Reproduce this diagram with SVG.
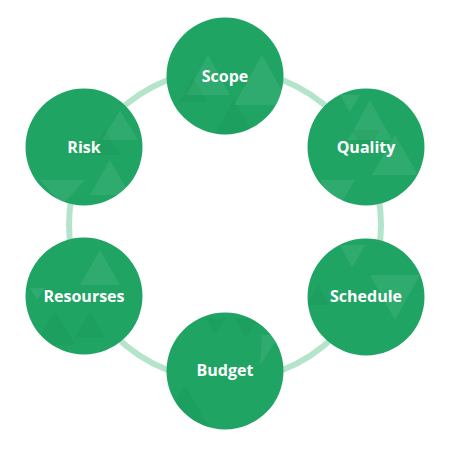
<svg xmlns="http://www.w3.org/2000/svg" width="450" height="450" viewBox="0 0 450 450">
<style>
.node{fill:#1fa463}
.lbl{font-family:"Open Sans","Liberation Sans",sans-serif;font-weight:700;font-size:16px;fill:#ffffff;text-anchor:middle}
.lt{fill:#ffffff;opacity:0.08}
.dk{fill:#0e7a45;opacity:0.12}
</style>
<defs>
<clipPath id="c1"><circle cx="225" cy="76" r="58.5"/></clipPath>
<clipPath id="c2"><circle cx="366" cy="147" r="58.5"/></clipPath>
<clipPath id="c3"><circle cx="366" cy="297" r="58.5"/></clipPath>
<clipPath id="c4"><circle cx="225" cy="371" r="58.5"/></clipPath>
<clipPath id="c5"><circle cx="84" cy="296" r="58.5"/></clipPath>
<clipPath id="c6"><circle cx="84" cy="147" r="58.5"/></clipPath>
</defs>
<rect width="450" height="450" fill="#ffffff"/>
<g id="connectors">
<circle cx="225" cy="225" r="156" fill="none" stroke="#b5e4cd" stroke-width="6"/>
</g>
<g id="scope">
<circle class="node" cx="225" cy="76" r="58.5"/>
<g clip-path="url(#c1)">
<polygon class="lt" points="208,55 230,95 186,95"/>
<polygon class="dk" points="193,78 207,102 179,102"/>
<polygon class="dk" points="234,100 254,135 214,135"/>
<polygon class="lt" points="262,55 290,105 234,105"/>
</g>
<text class="lbl" x="225" y="82">Scope</text>
</g>
<g id="quality">
<circle class="node" cx="366" cy="147" r="58.5"/>
<g clip-path="url(#c2)">
<polygon class="lt" points="340,95 360,95 350,112"/>
<polygon class="lt" points="370,100 392,140 348,140"/>
<polygon class="lt" points="395,135 418,175 372,175"/>
<polygon class="dk" points="352,130 380,130 366,155"/>
<polygon class="lt" points="320,180 355,180 337,210"/>
</g>
<text class="lbl" x="366" y="153">Quality</text>
</g>
<g id="schedule">
<circle class="node" cx="366" cy="297" r="58.5"/>
<g clip-path="url(#c3)">
<polygon class="lt" points="370,275 420,275 395,320"/>
<polygon class="dk" points="318,285 330,305 306,305"/>
<polygon class="lt" points="340,245 365,245 352,268"/>
</g>
<text class="lbl" x="366" y="302">Schedule</text>
</g>
<g id="budget">
<circle class="node" cx="225" cy="371" r="58.5"/>
<g clip-path="url(#c4)">
<polygon class="dk" points="205,318 225,318 215,335"/>
<polygon class="dk" points="235,318 258,318 246,338"/>
<polygon class="lt" points="262,335 280,335 260,365"/>
<polygon class="dk" points="185,385 210,430 160,430"/>
</g>
<text class="lbl" x="225" y="376">Budget</text>
</g>
<g id="resourses">
<circle class="node" cx="84" cy="296" r="58.5"/>
<g clip-path="url(#c5)">
<polygon class="lt" points="30,288 45,288 37,300"/>
<polygon class="dk" points="55,310 75,345 35,345"/>
<polygon class="dk" points="90,312 105,338 75,338"/>
<polygon class="lt" points="100,250 120,285 80,285"/>
</g>
<text class="lbl" x="84" y="302">Resourses</text>
</g>
<g id="risk">
<circle class="node" cx="84" cy="147" r="58.5"/>
<g clip-path="url(#c6)">
<polygon class="lt" points="120,110 138,140 102,140"/>
<polygon class="lt" points="110,160 130,195 90,195"/>
<polygon class="lt" points="40,180 85,180 62,205"/>
<polygon class="dk" points="105,130 120,155 90,155"/>
</g>
<text class="lbl" x="84" y="153">Risk</text>
</g>
</svg>
